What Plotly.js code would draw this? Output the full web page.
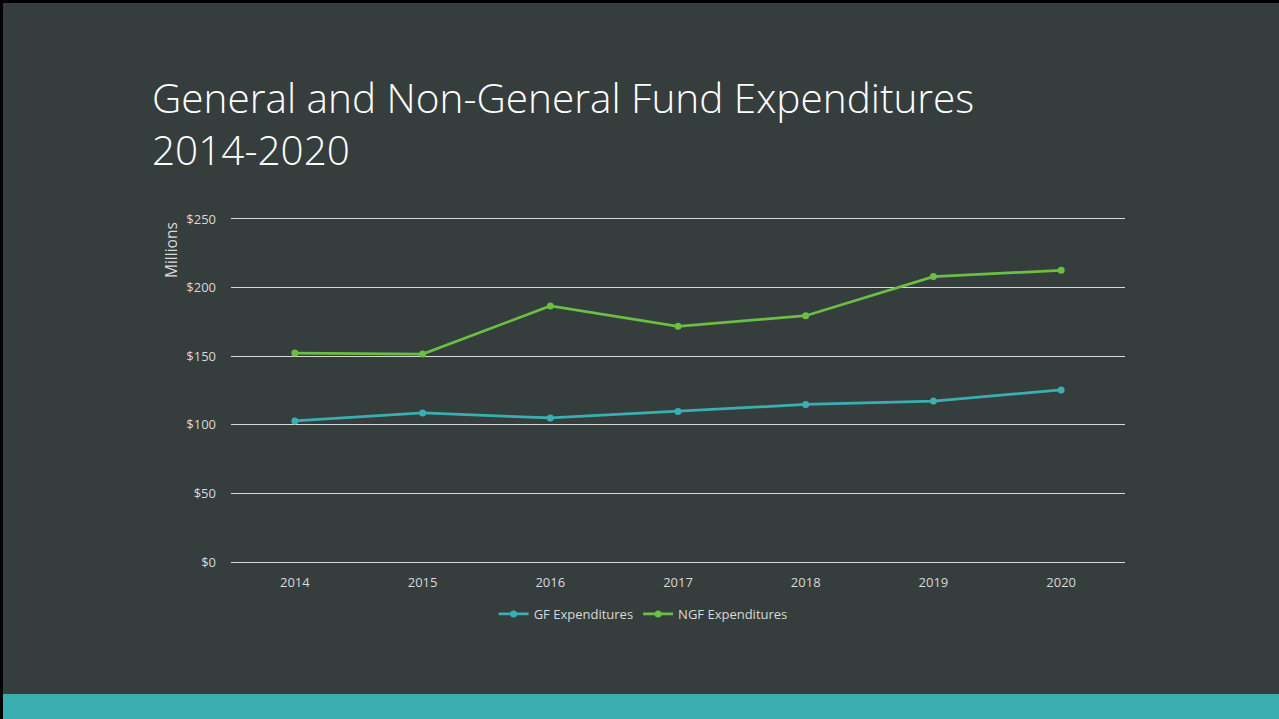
<!DOCTYPE html>
<html>
<head>
<meta charset="utf-8">
<script src="https://cdn.plot.ly/plotly-3.0.1.min.js"></script>
<style>
  html, body { margin:0; padding:0; background:#000; width:1279px; height:719px; overflow:hidden; }
  #chart { position:absolute; left:3px; top:3px; width:1276px; height:716px; }
</style>
</head>
<body>
<div id="chart"></div>
<script>
const years = ['2014','2015','2016','2017','2018','2019','2020'];
const gfExpenditures = [102.8, 108.6, 105.0, 109.7, 114.8, 117.3, 125.4];
const ngfExpenditures = [152.3, 151.6, 186.6, 171.8, 179.5, 208.0, 212.6];
const yTickVals = [0, 50, 100, 150, 200, 250];
const yTickText = ['$0', '$50', '$100', '$150', '$200', '$250'];
const titleText = 'General and Non-General Fund Expenditures<br>2014-2020';

const bg = '#353d3d';
const teal = '#3aafb2';
const green = '#6abf44';
const textCol = '#d9d9d9';
const gridCol = '#d9d9d9';
const font = 'Open Sans, Lato, sans-serif';

const traces = [
  { x: years, y: gfExpenditures, name: 'GF Expenditures', type: 'scatter', mode: 'lines+markers',
    line: { color: teal, width: 2.75 }, marker: { color: teal, size: 7 } },
  { x: years, y: ngfExpenditures, name: 'NGF Expenditures', type: 'scatter', mode: 'lines+markers',
    line: { color: green, width: 2.75 }, marker: { color: green, size: 7 } }
];

const titleSize = 40.5;
const layout = {
  width: 1276, height: 716,
  paper_bgcolor: bg, plot_bgcolor: bg,
  margin: { l: 228, r: 154, t: 216, b: 157 },
  font: { family: font, color: textCol, size: 13 },
  title: {
    text: titleText,
    xref: 'container', yref: 'container', x: 149/1276, xanchor: 'left',
    y: 1 - 109.5 / 716, yanchor: 'middle',
    font: { family: font, size: titleSize, color: '#ffffff', weight: 300 }
  },
  xaxis: {
    type: 'category', range: [-0.5, 6.5], showgrid: false, zeroline: false,
    showline: true, mirror: true, linecolor: gridCol, linewidth: 1,
    ticks: '', tickfont: { size: 13, color: textCol }, ticklabelstandoff: 8,
    fixedrange: true
  },
  yaxis: {
    range: [0, 250], tickvals: yTickVals, ticktext: yTickText,
    showgrid: true, gridcolor: gridCol, gridwidth: 1, zeroline: false,
    showline: false, ticks: '', tickfont: { size: 13, color: textCol }, ticklabelstandoff: 14,
    fixedrange: true
  },
  showlegend: true,
  legend: {
    orientation: 'h', x: 0.461, xanchor: 'center', y: (559 - 611) / 343, yanchor: 'middle',
    font: { size: 13, color: textCol }, bgcolor: 'rgba(0,0,0,0)', itemwidth: 30, tracegroupgap: 0
  },
  annotations: [{
    text: 'Millions', textangle: -90, showarrow: false,
    xref: 'paper', yref: 'paper', x: (171 - 3 - 228) / 894, y: (559 - 247) / 343,
    xanchor: 'center', yanchor: 'middle', font: { size: 15.5, color: textCol }
  }],
  shapes: [{
    type: 'rect', xref: 'paper', yref: 'paper', layer: 'below',
    x0: -0.3, x1: 1.25, y0: (559 - 691) / 343, y1: -0.5,
    fillcolor: '#3aaeb0', line: { width: 0 }
  }]
};

Plotly.newPlot('chart', traces, layout, { displayModeBar: false, staticPlot: true });
</script>
</body>
</html>
